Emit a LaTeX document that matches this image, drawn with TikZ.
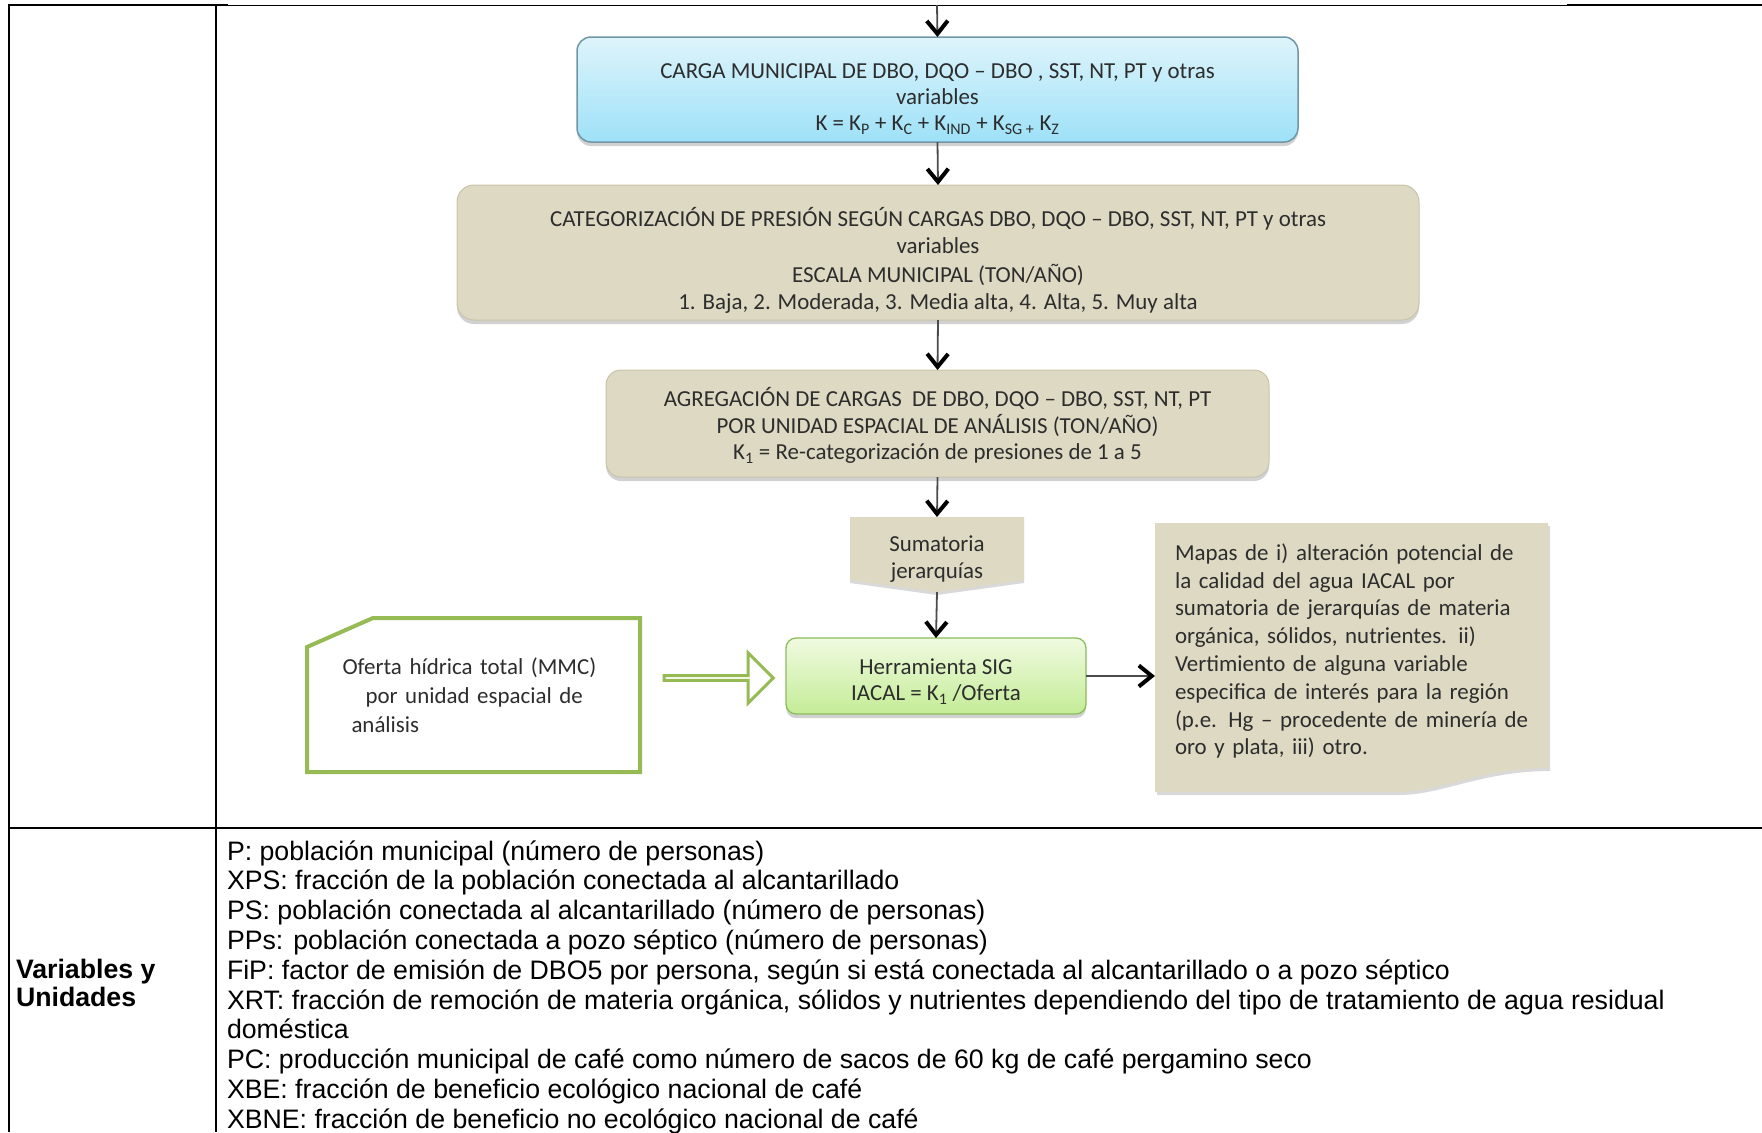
\documentclass[tikz,border=0pt]{standalone}
\usepackage{fontspec}
\setmainfont{Liberation Sans}
\newfontfamily\diag{Carlito}
\usetikzlibrary{arrows.meta,shadows,shapes.arrows,calc}
\pgfdeclarelayer{bg}
\pgfsetlayers{bg,main}
\definecolor{tanfill}{RGB}{221,217,195}
\definecolor{tanedge}{RGB}{200,196,170}
\definecolor{bluetop}{RGB}{222,244,251}
\definecolor{bluebot}{RGB}{158,225,248}
\definecolor{blueedge}{RGB}{112,150,166}
\definecolor{greentop}{RGB}{240,250,225}
\definecolor{greenbot}{RGB}{196,236,150}
\definecolor{greenedge}{RGB}{140,188,92}
\definecolor{oferedge}{RGB}{150,186,84}
\definecolor{txt}{RGB}{45,45,45}
\tikzset{
  dfont/.style={font=\diag\fontsize{23}{26.5}\selectfont, text=txt},
  box/.style={dfont, align=center, rounded corners=14bp,
    drop shadow={shadow xshift=0bp, shadow yshift=-4bp, opacity=0.3, fill=black!60}},
  bluebox/.style={box, draw=blueedge, line width=1.5bp, top color=bluetop, bottom color=bluebot},
  tanbox/.style={box, draw=tanedge, line width=1bp, fill=tanfill},
  greenbox/.style={box, draw=greenedge, line width=1.3bp, top color=greentop, bottom color=greenbot, rounded corners=10bp},
  flow/.style={draw=black!70, line width=1.8bp, -{Straight Barb[length=13bp,width=21bp,line width=4bp,color=black]}},
  tabline/.style={line width=2bp, black},
  tabtext/.style={font=\fontsize{26.8}{30}\selectfont, anchor=base west},
  tabbold/.style={font=\bfseries\fontsize{26.8}{30}\selectfont, anchor=base west},
}
\begin{document}
\begin{tikzpicture}[x=1bp,y=-1bp, every node/.style={inner sep=0pt, outer sep=0pt}]
\useasboundingbox (0,0) rectangle (1762,1132);
% table rules
\draw[tabline] (9,1132) -- (9,5) -- (228,5);
\draw[line width=0.8bp] (228,5) -- (1567,5);
\draw[tabline] (1567,5) -- (1762,5);
\draw[tabline] (216,5) -- (216,1132);
\draw[line width=2.2bp] (9,828) -- (1762,828);

% flowchart boxes
\node[bluebox, minimum width=721bp, minimum height=105bp] (blue) at (937.5,89.5)
  {\rule{0pt}{34bp}CARGA MUNICIPAL DE DBO, DQO – DBO , SST, NT, PT y otras\\variables\\
   K = K\textsubscript{P} + K\textsubscript{C} + K\textsubscript{IND} + K\textsubscript{SG +} K\textsubscript{Z}};
\node[tanbox, rounded corners=17bp, minimum width=962bp, minimum height=135bp] (cat) at (938,252.5)
  {\rule{0pt}{35bp}CATEGORIZACIÓN DE PRESIÓN SEGÚN CARGAS DBO, DQO – DBO, SST, NT, PT y otras\\variables\\[3bp]
   ESCALA MUNICIPAL (TON/AÑO)\\1. Baja, 2. Moderada, 3. Media alta, 4. Alta, 5. Muy alta};
\node[tanbox, rounded corners=15bp, minimum width=663bp, minimum height=107bp] (agg) at (937.5,423.5)
  {\rule{0pt}{23bp}AGREGACIÓN DE CARGAS \ DE DBO, DQO – DBO, SST, NT, PT\\
   POR UNIDAD ESPACIAL DE ANÁLISIS (TON/AÑO)\\
   K\textsubscript{1} = Re-categorización de presiones de 1 a 5};
\node[dfont, align=center, minimum width=174bp, minimum height=75bp] (sum) at (937,554.5)
  {\rule{0pt}{25bp}Sumatoria\\jerarquías};
\node[greenbox, minimum width=300bp, minimum height=76bp] (herr) at (936,676)
  {\rule{0pt}{27bp}Herramienta SIG\\IACAL = K\textsubscript{1} /Oferta};
\node[dfont, align=left, text width=262bp, minimum width=333bp, minimum height=154bp,
      font=\diag\fontsize{23}{29}\selectfont] (ofe) at (473.5,695)
  {Oferta hídrica total (MMC)\\\hspace*{23bp}por unidad espacial de\\\hspace*{9bp}análisis};
\node[minimum width=393bp, minimum height=269bp] (map) at (1351.5,657.5) {};
\node[dfont, align=left, text width=353bp, font=\diag\fontsize{23}{27.9}\selectfont] (mapt) at (1351.5,651)
  {\makebox[353bp][s]{Mapas de i) alteración potencial de}\\
   \makebox[353bp][s]{la calidad del agua IACAL por}\\
   \makebox[353bp][s]{sumatoria de jerarquías de materia}\\
   \makebox[353bp][s]{orgánica, sólidos, nutrientes. ii)}\\
   \makebox[353bp][s]{Vertimiento de alguna variable}\\
   \makebox[353bp][s]{especifica de interés para la región}\\
   \makebox[353bp][s]{(p.e. Hg – procedente de minería de}\\
   oro y plata, iii) otro.};
\node[single arrow, draw=oferedge, line width=3bp, fill=white, minimum height=109bp,
      minimum width=50bp, single arrow head extend=15bp] (dbl) at (717.5,678) {};

\begin{pgfonlayer}{bg}
  \fill[tanfill, drop shadow={shadow xshift=0bp, shadow yshift=-3bp, opacity=0.25, fill=black!60}]
    (sum.north west) -- (sum.north east) -- ($(sum.south east)+(0,-12)$) -- (sum.south)
    -- ($(sum.south west)+(0,-12)$) -- cycle;
  \draw[oferedge, line width=4bp, fill=white, line join=miter]
    ($(ofe.north west)+(66,0)$) -- (ofe.north east) -- (ofe.south east) -- (ofe.south west)
    -- ($(ofe.north west)+(0,29)$) -- cycle;
  \fill[tanfill, drop shadow={shadow xshift=2bp, shadow yshift=-3bp, opacity=0.25, fill=black!60}]
    (map.north west) -- (map.north east) -- ($(map.south east)+(0,-24)$)
    .. controls ($(map.south east)+(-68,-24)$) and ($(map.south east)+(-108,0)$) .. ($(map.south east)+(-151,0)$)
    -- (map.south west) -- cycle;
\end{pgfonlayer}

% connectors
\coordinate (topin) at (937,5);
\draw[flow] (topin) -- (blue.north);
\draw[flow] (blue.south) -- (cat.north);
\draw[flow] (cat.south) -- (agg.north);
\draw[flow] (agg.south) -- (sum.north);
\draw[flow] (sum.south) -- (herr.north);
\draw[flow] (herr.east) -- (herr.east -| map.west);

% table text
\node[tabbold] (lab1) at (16,978) {Variables y};
\node[tabbold] (lab2) at (16,1006) {Unidades};
\foreach \t [count=\i] in {
  {P: población municipal (número de personas)},
  {XPS: fracción de la población conectada al alcantarillado},
  {PS: población conectada al alcantarillado (número de personas)},
  {PPs: población conectada a pozo séptico (número de personas)},
  {FiP: factor de emisión de DBO5 por persona, según si está conectada al alcantarillado o a pozo séptico},
  {XRT: fracción de remoción de materia orgánica, sólidos y nutrientes dependiendo del tipo de tratamiento de agua residual},
  {doméstica},
  {PC: producción municipal de café como número de sacos de 60 kg de café pergamino seco},
  {XBE: fracción de beneficio ecológico nacional de café},
  {XBNE: fracción de beneficio no ecológico nacional de café}}
  \node[tabtext] (v\i) at (227,{860+(\i-1)*29.8}) {\t};
\end{tikzpicture}
\end{document}
